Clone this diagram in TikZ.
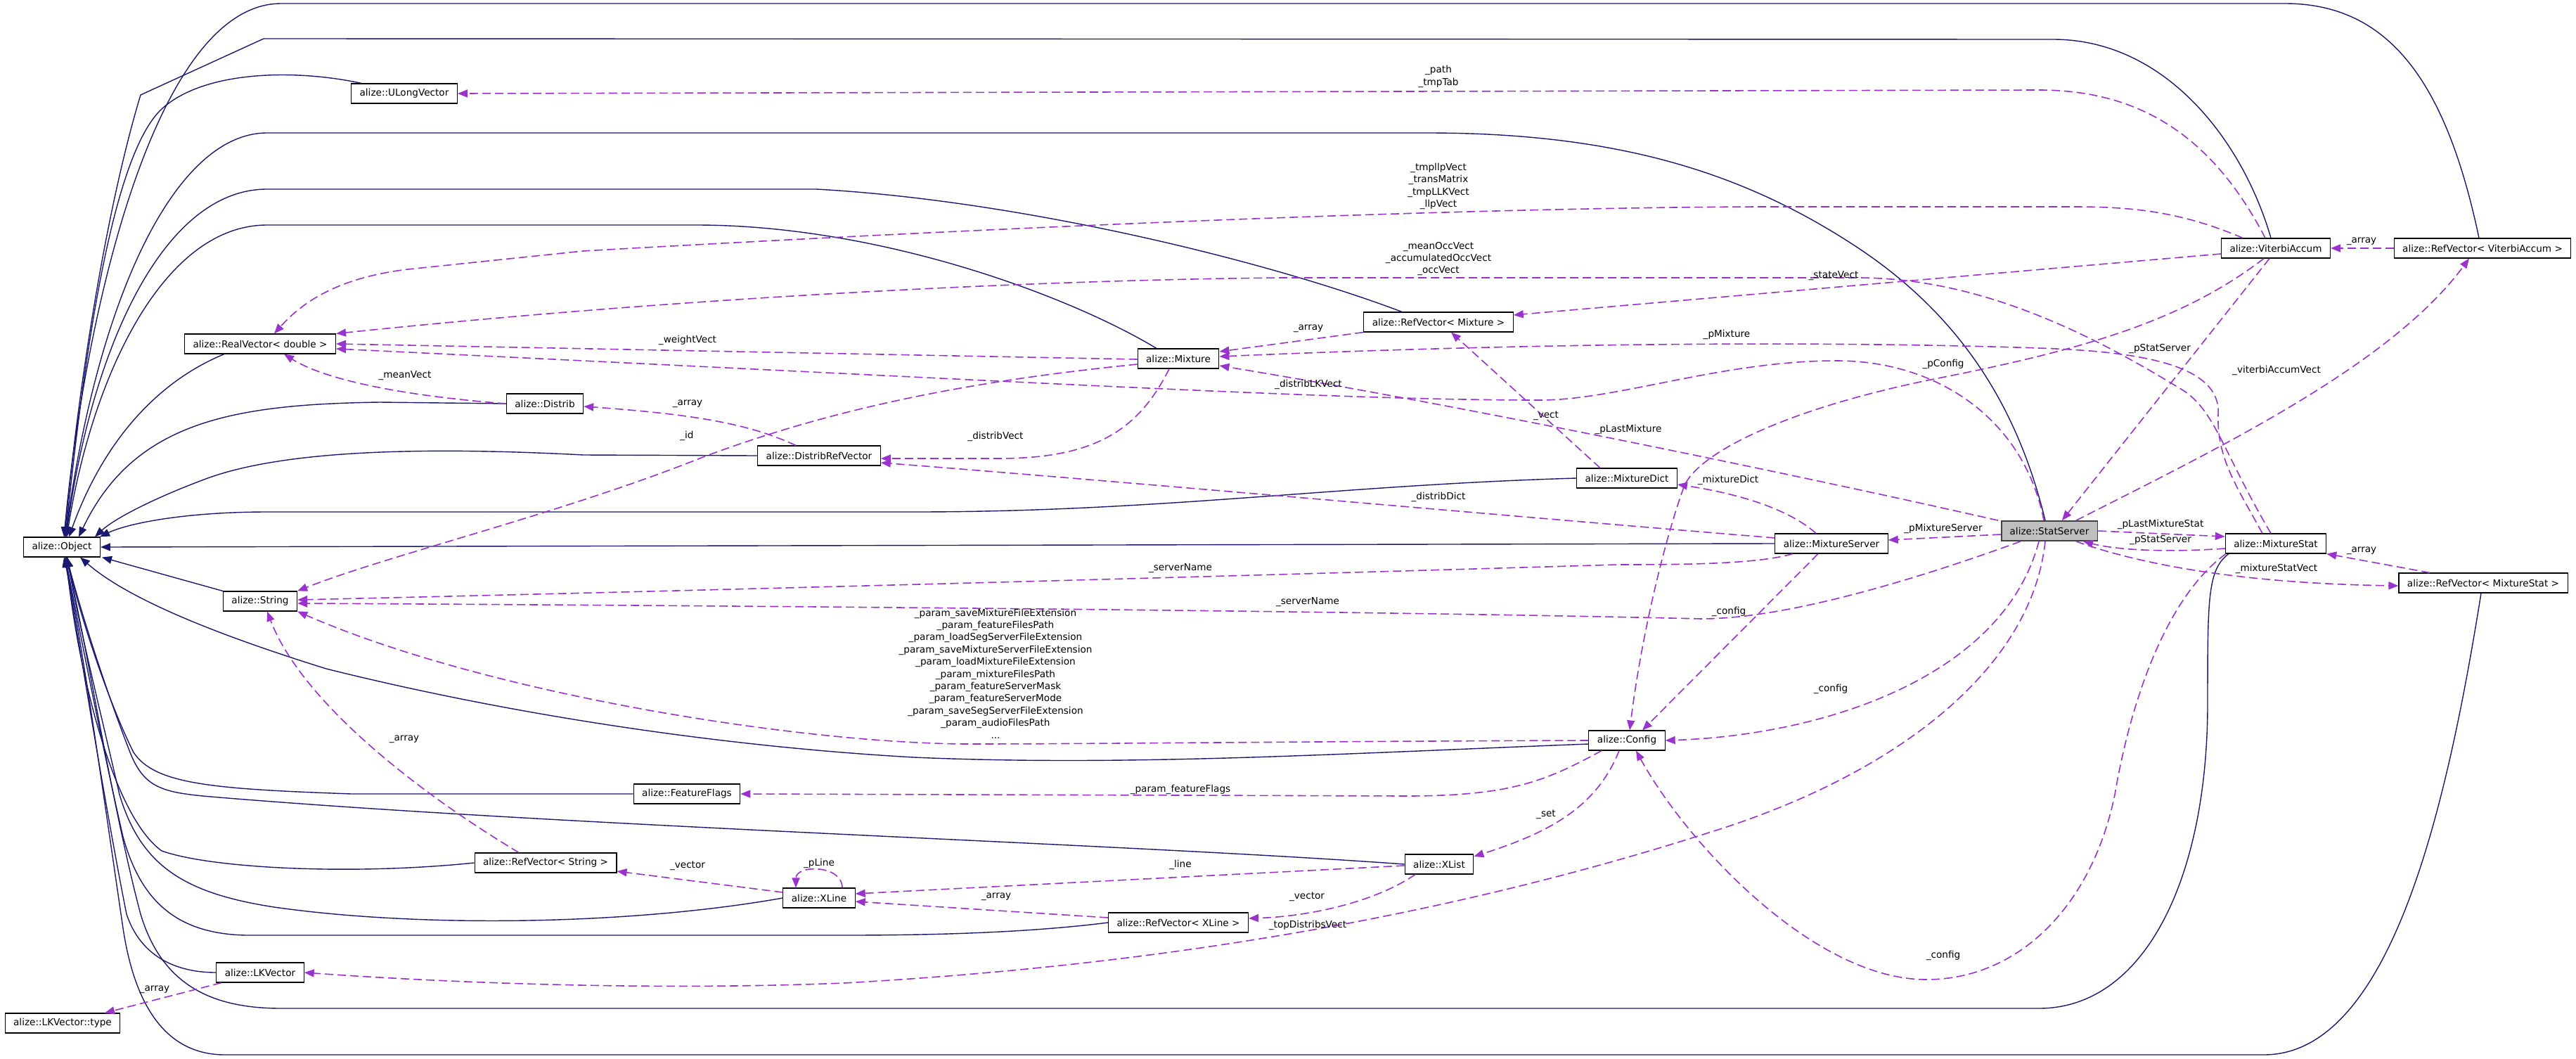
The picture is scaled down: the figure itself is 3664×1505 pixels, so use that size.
\documentclass[tikz,border=0pt]{standalone}
\usepackage{fontspec}
\setmainfont{DejaVu Sans}
\usetikzlibrary{arrows.meta}
\definecolor{edgenavy}{HTML}{191970}
\definecolor{edgeorchid}{HTML}{9A32CD}
\definecolor{mainfill}{HTML}{BFBFBF}
\begin{document}
\begin{tikzpicture}[x=1pt, y=-1pt, font=\fontsize{13.6}{17.4}\selectfont,
    cls/.style={draw=black, fill=white, line width=1.1pt, inner xsep=12pt, inner ysep=0pt, minimum height=28pt},
    clsmain/.style={cls, draw=black!75, fill=mainfill, line width=1.8pt},
    inhedge/.style={draw=edgenavy, line width=1.4pt, -{Triangle[length=14pt,width=11pt]}},
    usedge/.style={draw=edgeorchid, line width=1.6pt, dash pattern=on 12pt off 6pt, -{Triangle[length=14pt,width=11pt]}},
    lbl/.style={inner sep=0pt, align=center}]
    \useasboundingbox (0,0) rectangle (3664,1505);
    \fill[white] (0,0) rectangle (3664,1505);
    % --- classes ---
    \node[cls] (obj)        at (88,778)   {alize::Object};
    \node[cls] (lktype)     at (89,1455)  {alize::LKVector::type};
    \node[cls] (ulong)      at (575,133)  {alize::ULongVector};
    \node[cls] (realv)      at (370,489)  {alize::RealVector< double >};
    \node[cls] (distrib)    at (775,574)  {alize::Distrib};
    \node[cls] (drv)        at (1165,648) {alize::DistribRefVector};
    \node[cls] (string)     at (370,855)  {alize::String};
    \node[cls] (fflags)     at (977,1129) {alize::FeatureFlags};
    \node[cls] (rvstring)   at (776,1227) {alize::RefVector< String >};
    \node[cls] (xline)      at (1165,1277) {alize::XLine};
    \node[cls] (lkvec)      at (370,1383) {alize::LKVector};
    \node[cls] (mixture)    at (1676,510) {alize::Mixture};
    \node[cls] (rvmix)      at (2046,458) {alize::RefVector< Mixture >};
    \node[cls] (mixdict)    at (2314,680) {alize::MixtureDict};
    \node[cls] (config)     at (2314,1053) {alize::Config};
    \node[cls] (xlist)      at (2047,1229) {alize::XList};
    \node[cls] (rvxline)    at (1676,1312) {alize::RefVector< XLine >};
    \node[cls] (mixserver)  at (2605,773) {alize::MixtureServer};
    \node[clsmain] (statserver) at (2915,755) {alize::StatServer};
    \node[cls] (mixstat)    at (3237,773) {alize::MixtureStat};
    \node[cls] (viterbi)    at (3237,353) {alize::ViterbiAccum};
    \node[cls] (rvviterbi)  at (3531,353) {alize::RefVector< ViterbiAccum >};
    \node[cls] (rvmixstat)  at (3532,829) {alize::RefVector< MixtureStat >};
    % --- inheritance ---
    \draw[inhedge] ([xshift=-5pt]rvviterbi.north) .. controls (3480,120) and (3400,5) .. (3250,5) -- (400,5) .. controls (220,5) and (120,450) .. ([xshift=3pt]obj.north);
    \draw[inhedge] ([xshift=-7pt]viterbi.north) .. controls (3190,200) and (3080,56) .. (2920,56) -- (375,55) -- (200,135) .. controls (150,300) and (110,560) .. ([xshift=4pt]obj.north);
    \draw[inhedge] ([xshift=-61pt]ulong.north) .. controls (420,98) and (290,100) .. (230,155) .. controls (160,220) and (120,500) .. ([xshift=5pt]obj.north);
    \draw[inhedge] ([xshift=-6pt]statserver.north) .. controls (2870,580) and (2790,450) .. (2642,352) .. controls (2480,245) and (2300,189) .. (2030,189) -- (380,189) .. controls (250,189) and (140,420) .. ([xshift=5pt]obj.north);
    \draw[inhedge] ([xshift=-52pt]rvmix.north) .. controls (1800,370) and (1450,285) .. (1161,269) -- (380,269) .. controls (230,269) and (130,500) .. ([xshift=6pt]obj.north);
    \draw[inhedge] ([xshift=-31pt]mixture.north) .. controls (1520,420) and (1250,320) .. (990,320) -- (380,320) .. controls (230,320) and (130,540) .. ([xshift=7pt]obj.north);
    \draw[inhedge] ([xshift=-51pt]realv.south) .. controls (230,540) and (150,620) .. ([xshift=10pt]obj.north);
    \draw[inhedge] (distrib.west) -- (540,572) .. controls (330,575) and (190,600) .. ([xshift=24pt]obj.north);
    \draw[inhedge] (drv.west) -- (830,647) .. controls (600,635) and (400,640) .. (290,682) .. controls (210,712) and (160,740) .. ([xshift=47pt]obj.north);
    \draw[inhedge] (mixdict.west) .. controls (1900,690) and (1650,728) .. (1300,728) -- (380,728) .. controls (260,728) and (180,745) .. ([xshift=54pt]obj.north);
    \draw[inhedge] (mixserver.west) -- (obj.east);
    \draw[inhedge] (string.north west) -- ([xshift=57pt]obj.south);
    \draw[inhedge] ([yshift=-5pt]config.west) .. controls (1900,1072) and (1600,1090) .. (1300,1077) .. controls (1000,1060) and (700,1010) .. (464,951) .. controls (300,900) and (180,850) .. ([xshift=26pt]obj.south);
    \draw[inhedge] (fflags.west) -- (500,1129) .. controls (300,1122) and (220,1115) .. (190,1070) .. controls (155,1000) and (115,880) .. ([xshift=7pt]obj.south);
    \draw[inhedge] (xlist.west) .. controls (1600,1200) and (800,1175) .. (300,1133) .. controls (230,1127) and (205,1120) .. (185,1070) .. controls (150,980) and (115,870) .. ([xshift=7pt]obj.south);
    \draw[inhedge] (rvstring.west) .. controls (500,1245) and (300,1235) .. (230,1210) .. controls (160,1160) and (110,950) .. ([xshift=6pt]obj.south);
    \draw[inhedge] (xline.west) .. controls (900,1315) and (600,1320) .. (390,1290) .. controls (260,1270) and (200,1230) .. (170,1130) .. controls (140,1000) and (110,880) .. ([xshift=8pt]obj.south);
    \draw[inhedge] (rvxline.west) .. controls (1450,1328) and (1300,1330) .. (1200,1330) -- (350,1330) .. controls (250,1328) and (200,1280) .. (175,1190) .. controls (145,1060) and (110,880) .. ([xshift=5pt]obj.south);
    \draw[inhedge] (lkvec.west) .. controls (250,1383) and (200,1360) .. (180,1300) .. controls (150,1150) and (110,900) .. ([xshift=4pt]obj.south);
    \draw[inhedge] ([xshift=-67pt]mixstat.south) .. controls (3140,810) and (3140,850) .. (3140,1000) .. controls (3140,1250) and (3050,1434) .. (2900,1434) -- (400,1434) .. controls (300,1434) and (230,1400) .. (200,1300) .. controls (160,1150) and (120,900) .. ([xshift=6pt]obj.south);
    \draw[inhedge] ([xshift=-3pt]rvmixstat.south) .. controls (3480,1150) and (3400,1500) .. (3220,1500) -- (320,1500) .. controls (230,1500) and (190,1420) .. (175,1320) .. controls (150,1150) and (115,900) .. ([xshift=3pt]obj.south);
    % --- usage ---
    \draw[usedge] ([xshift=-15pt]viterbi.north) .. controls (3150,200) and (3050,128) .. (2900,128) -- (ulong.east);
    \draw[usedge] ([xshift=-47pt]viterbi.north) .. controls (3100,300) and (3030,294) .. (2948,294) -- (2500,294) .. controls (2000,296) and (1300,330) .. (829,357) -- (580,383) .. controls (480,395) and (430,430) .. ([xshift=20pt]realv.north);
    \draw[usedge] ([xshift=-7pt]mixstat.north) .. controls (3160,640) and (3150,580) .. (3100,552) .. controls (2950,460) and (2800,395) .. (2642,395) -- (1822,395) .. controls (1500,398) and (1000,420) .. (realv.north east);
    \draw[usedge] ([yshift=-8pt]viterbi.west) -- ([yshift=10pt]rvmix.east);
    \draw[usedge] ([yshift=-1pt]mixture.west) -- (realv.east);
    \draw[usedge] ([xshift=-8pt]statserver.north) .. controls (2880,600) and (2760,513) .. (2612,513) .. controls (2450,513) and (2300,569) .. (2191,569) .. controls (1900,569) and (1500,545) .. ([yshift=-7pt]realv.east);
    \draw[usedge] (distrib.west) .. controls (600,565) and (470,545) .. ([xshift=34pt]realv.south);
    \draw[usedge] (rvmix.south west) -- ([yshift=10pt]mixture.east);
    \draw[usedge] ([xshift=-19pt]mixstat.north) .. controls (3180,690) and (3153,650) .. (3155,590) .. controls (3160,520) and (3050,500) .. (2900,495) .. controls (2600,485) and (2200,487) .. ([yshift=3pt]mixture.east);
    \draw[usedge] ([xshift=-73pt]statserver.north) .. controls (2600,685) and (2100,580) .. ([yshift=-10pt]mixture.east);
    \draw[usedge] ([xshift=-13pt]mixture.south) .. controls (1620,610) and (1560,652) .. (1420,652) -- ([yshift=-4pt]drv.east);
    \draw[usedge] ([yshift=8pt]mixserver.west) .. controls (2100,730) and (1600,685) .. ([yshift=-10pt]drv.east);
    \draw[usedge] ([xshift=-33pt]drv.north) .. controls (1070,605) and (1000,590) .. ([yshift=-4pt]distrib.east);
    \draw[usedge] ([yshift=-8pt]mixture.west) .. controls (1400,540) and (1200,575) .. (1000,650) .. controls (800,730) and (550,790) .. (string.north east);
    \draw[usedge] ([xshift=-55pt]mixserver.south) .. controls (2500,802) and (2400,803) .. (2300,803) .. controls (1800,818) and (1000,840) .. ([yshift=2pt]string.east);
    \draw[usedge] ([xshift=-41pt]statserver.south) .. controls (2750,815) and (2550,880) .. (2420,880) .. controls (2000,870) and (1200,862) .. ([yshift=-3pt]string.east);
    \draw[usedge] (config.west) .. controls (1900,1054) and (1550,1058) .. (1380,1058) .. controls (1150,1058) and (700,990) .. (string.south east);
    \draw[usedge] ([xshift=-36pt]config.south) .. controls (2200,1110) and (2150,1132) .. (2000,1132) -- (fflags.east);
    \draw[usedge] ([xshift=-11pt]config.south) .. controls (2270,1150) and (2200,1185) .. ([yshift=11pt]xlist.east);
    \draw[usedge] ([yshift=-2pt]xlist.west) -- ([yshift=6pt]xline.east);
    \draw[usedge] ([yshift=7pt]rvxline.west) -- ([yshift=-5pt]xline.east);
    \draw[usedge] ([xshift=-34pt]xlist.south) .. controls (1960,1280) and (1870,1303) .. ([yshift=6pt]rvxline.east);
    \draw[usedge] ([yshift=8pt]xline.west) -- ([yshift=-12pt]rvstring.east);
    \draw[usedge] ([xshift=33pt]xline.north) .. controls +(0,-33) and +(0,-33) .. ([xshift=-33pt]xline.north);
    \draw[usedge] ([xshift=-38pt]rvstring.north) .. controls (600,1130) and (430,1000) .. ([xshift=10pt]string.south);
    \draw[usedge] ([xshift=-6pt]statserver.south) .. controls (2890,950) and (2700,1100) .. (2434,1183) .. controls (2100,1290) and (1700,1370) .. (1200,1398) .. controls (900,1410) and (600,1395) .. (lkvec.east);
    \draw[usedge] ([xshift=-15pt]statserver.south) .. controls (2850,960) and (2600,1045) .. (config.east);
    \draw[usedge] ([xshift=-71pt]mixstat.south) .. controls (3080,850) and (3030,1000) .. (3008,1130) .. controls (2975,1290) and (2870,1393) .. (2740,1393) .. controls (2580,1393) and (2400,1200) .. ([xshift=13pt]config.south);
    \draw[usedge] ([xshift=-17pt]viterbi.south) .. controls (3100,460) and (2950,500) .. (2746,540) .. controls (2550,580) and (2420,640) .. (2396,690) .. controls (2370,760) and (2335,900) .. ([xshift=4pt]config.north);
    \draw[usedge] ([xshift=-19pt]mixserver.south) -- ([xshift=22pt]config.north);
    \draw[usedge] ([xshift=-22pt]mixserver.north) .. controls (2540,720) and (2460,700) .. ([yshift=-9pt]mixdict.east);
    \draw[usedge] ([xshift=-38pt]mixdict.north) -- ([xshift=18pt]rvmix.south);
    \draw[usedge] ([yshift=-5pt]statserver.west) -- ([yshift=5pt]mixserver.east);
    \draw[usedge] (statserver.east) -- ([yshift=10pt]mixstat.west);
    \draw[usedge] ([yshift=-7pt]mixstat.west) .. controls (3080,786) and (3010,782) .. ([xshift=48pt]statserver.south);
    \draw[usedge] ([xshift=38pt]statserver.south) .. controls (3050,805) and (3200,830) .. ([yshift=-4pt]rvmixstat.west);
    \draw[usedge] ([xshift=-76pt]rvmixstat.north) -- (mixstat.south east);
    \draw[usedge] (rvviterbi.west) -- (viterbi.east);
    \draw[usedge] ([xshift=38pt]statserver.north) .. controls (3150,640) and (3400,520) .. ([xshift=-19pt]rvviterbi.south);
    \draw[usedge] ([xshift=-9pt]viterbi.south) -- ([xshift=18pt]statserver.north);
    \draw[usedge] ([xshift=-55pt]lkvec.south) -- ([xshift=60pt]lktype.north);
    % --- edge labels ---
    \node[lbl] (l1)  at (2046,109)  {\_path\\\_tmpTab};
    \node[lbl] (l2)  at (2046,265)  {\_tmpllpVect\\\_transMatrix\\\_tmpLLKVect\\\_llpVect};
    \node[lbl] (l3)  at (2046,368)  {\_meanOccVect\\\_accumulatedOccVect\\\_occVect};
    \node[lbl] (l4)  at (2608,392)  {\_stateVect};
    \node[lbl] (l5)  at (978,484)   {\_weightVect};
    \node[lbl] (l6)  at (1861,547)  {\_distribLKVect};
    \node[lbl] (l7)  at (576,534)   {\_meanVect};
    \node[lbl] (l8)  at (1861,467)  {\_array};
    \node[lbl] (l9)  at (2456,476)  {\_pMixture};
    \node[lbl] (l10) at (2316,611)  {\_pLastMixture};
    \node[lbl] (l11) at (1416,621)  {\_distribVect};
    \node[lbl] (l12) at (2046,707)  {\_distribDict};
    \node[lbl] (l13) at (978,574)   {\_array};
    \node[lbl] (l14) at (977,620)   {\_id};
    \node[lbl] (l15) at (1679,808)  {\_serverName};
    \node[lbl] (l16) at (1860,856)  {\_serverName};
    \node[lbl] (l17) at (1416,958)  {\_param\_saveMixtureFileExtension\\\_param\_featureFilesPath\\\_param\_loadSegServerFileExtension\\\_param\_saveMixtureServerFileExtension\\\_param\_loadMixtureFileExtension\\\_param\_mixtureFilesPath\\\_param\_featureServerMask\\\_param\_featureServerMode\\\_param\_saveSegServerFileExtension\\\_param\_audioFilesPath\\...};
    \node[lbl] (l18) at (1679,1123) {\_param\_featureFlags};
    \node[lbl] (l19) at (2199,1158) {\_set};
    \node[lbl] (l20) at (1679,1230) {\_line};
    \node[lbl] (l21) at (1417,1275) {\_array};
    \node[lbl] (l22) at (1859,1275) {\_vector};
    \node[lbl] (l23) at (978,1231)  {\_vector};
    \node[lbl] (l24) at (1165,1228) {\_pLine};
    \node[lbl] (l25) at (575,1051)  {\_array};
    \node[lbl] (l26) at (1860,1316) {\_topDistribsVect};
    \node[lbl] (l27) at (2604,980)  {\_config};
    \node[lbl] (l28) at (2764,1359) {\_config};
    \node[lbl] (l29) at (2764,518)  {\_pConfig};
    \node[lbl] (l30) at (2459,870)  {\_config};
    \node[lbl] (l31) at (2458,683)  {\_mixtureDict};
    \node[lbl] (l32) at (2199,591)  {\_vect};
    \node[lbl] (l33) at (2764,752)  {\_pMixtureServer};
    \node[lbl] (l34) at (3073,746)  {\_pLastMixtureStat};
    \node[lbl] (l35) at (3073,768)  {\_pStatServer};
    \node[lbl] (l36) at (3238,809)  {\_mixtureStatVect};
    \node[lbl] (l37) at (3359,783)  {\_array};
    \node[lbl] (l38) at (3359,343)  {\_array};
    \node[lbl] (l39) at (3238,527)  {\_viterbiAccumVect};
    \node[lbl] (l40) at (3072,496)  {\_pStatServer};
    \node[lbl] (l41) at (220,1407)  {\_array};
  \end{tikzpicture}
\end{document}
